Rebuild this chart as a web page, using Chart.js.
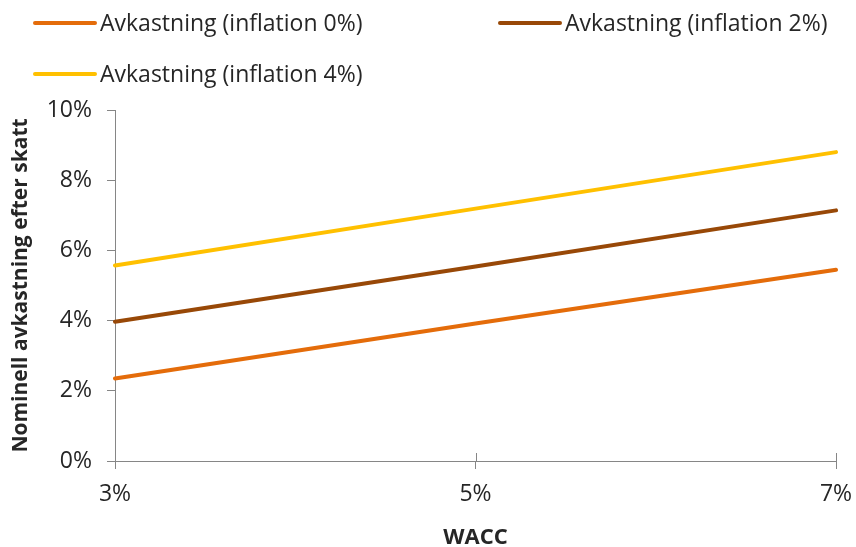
<!DOCTYPE html>
<html lang="sv">
<head>
<meta charset="utf-8">
<script src="https://cdn.jsdelivr.net/npm/chart.js@4/dist/chart.umd.min.js"></script>
<style>
  html, body { margin: 0; padding: 0; background: #fff; }
  #wrap { width: 856px; height: 547px; position: relative; }
</style>
</head>
<body>
<div id="wrap"><canvas id="c"></canvas></div>
<script>
// WACC categories (x axis) and nominal after-tax return per inflation scenario, in percent
const waccLabels = ['3%', '5%', '7%'];
const seriesNames = ['Avkastning (inflation 0%)', 'Avkastning (inflation 2%)', 'Avkastning (inflation 4%)'];
const returnInfl0 = [2.35, 3.92, 5.45];
const returnInfl2 = [3.97, 5.54, 7.14];
const returnInfl4 = [5.57, 7.19, 8.80];
const yTickValues = [0, 2, 4, 6, 8, 10];

const FONT = '"Open Sans", "Liberation Sans", sans-serif';
const TEXT = '#262626';
const AXIS = '#868686';
const colors = ['#E46C0A', '#984807', '#FFC000'];

// Legend drawn at fixed slots: two items on the first row, one on the second
const legendSlots = [
  { x: 35, y: 23 },
  { x: 500, y: 23 },
  { x: 35, y: 74 }
];
const fixedLegend = {
  id: 'fixedLegend',
  afterDraw(chart) {
    const ctx = chart.ctx;
    ctx.save();
    chart.data.datasets.forEach((ds, i) => {
      const s = legendSlots[i];
      ctx.strokeStyle = ds.borderColor;
      ctx.lineWidth = 4;
      ctx.lineCap = 'round';
      ctx.beginPath();
      ctx.moveTo(s.x, s.y);
      ctx.lineTo(s.x + 60, s.y);
      ctx.stroke();
      ctx.fillStyle = TEXT;
      ctx.font = '23px ' + FONT;
      ctx.textBaseline = 'middle';
      ctx.textAlign = 'left';
      ctx.fillText(ds.label, s.x + 65, s.y + 1);
    });
    ctx.restore();
  }
};

// Category tick marks on the x axis cross the axis line (extend upward too)
const crossTicks = {
  id: 'crossTicks',
  afterDraw(chart) {
    const xs = chart.scales.x;
    const ctx = chart.ctx;
    const y0 = chart.chartArea.bottom;
    ctx.save();
    ctx.strokeStyle = AXIS;
    ctx.lineWidth = 1;
    xs.ticks.forEach((t, i) => {
      const px = Math.round(xs.getPixelForTick(i)) + 0.5;
      ctx.beginPath();
      ctx.moveTo(px, y0 - 8);
      ctx.lineTo(px, y0);
      ctx.stroke();
    });
    ctx.restore();
  }
};

const seriesValues = [returnInfl0, returnInfl2, returnInfl4];

new Chart(document.getElementById('c'), {
  type: 'line',
  data: {
    labels: waccLabels,
    datasets: seriesValues.map((vals, i) => ({
      label: seriesNames[i],
      data: vals,
      borderColor: colors[i],
      borderWidth: 4,
      borderCapStyle: 'round',
      pointRadius: 0,
      tension: 0,
      fill: false
    }))
  },
  options: {
    responsive: true,
    maintainAspectRatio: false,
    animation: false,
    layout: { padding: { top: 110, right: 20, bottom: 0, left: 0 } },
    plugins: { legend: { display: false }, tooltip: { enabled: false } },
    scales: {
      x: {
        type: 'category',
        offset: false,
        grid: { display: true, drawOnChartArea: false, tickLength: 8, color: AXIS },
        border: { display: true, color: AXIS, width: 1 },
        ticks: { color: TEXT, font: { family: FONT, size: 23 }, padding: 12, maxRotation: 0 },
        title: {
          display: true, text: 'WACC', color: TEXT,
          font: { family: FONT, size: 22, weight: 'bold', lineHeight: 0.8 },
          padding: { top: 0, bottom: 0 }
        },
        afterFit(scale) {
          scale.height = 86;
          scale.paddingLeft = 0;
          scale.paddingRight = 0;
        }
      },
      y: {
        min: 0, max: 10,
        afterBuildTicks(scale) { scale.ticks = yTickValues.map(v => ({ value: v })); },
        grid: { display: true, drawOnChartArea: false, tickLength: 8, color: AXIS },
        border: { display: true, color: AXIS, width: 1 },
        ticks: { color: TEXT, font: { family: FONT, size: 23 }, padding: 15, callback: v => v + '%' },
        title: {
          display: true, text: 'Nominell avkastning efter skatt', color: TEXT,
          font: { family: FONT, size: 21, weight: 'bold', lineHeight: 1.2 },
          padding: { top: 8, bottom: 0 }
        },
        afterFit(scale) {
          scale.width = 115;
          scale.paddingTop = 0;
          scale.paddingBottom = 0;
        }
      }
    }
  },
  plugins: [fixedLegend, crossTicks]
});
</script>
</body>
</html>
